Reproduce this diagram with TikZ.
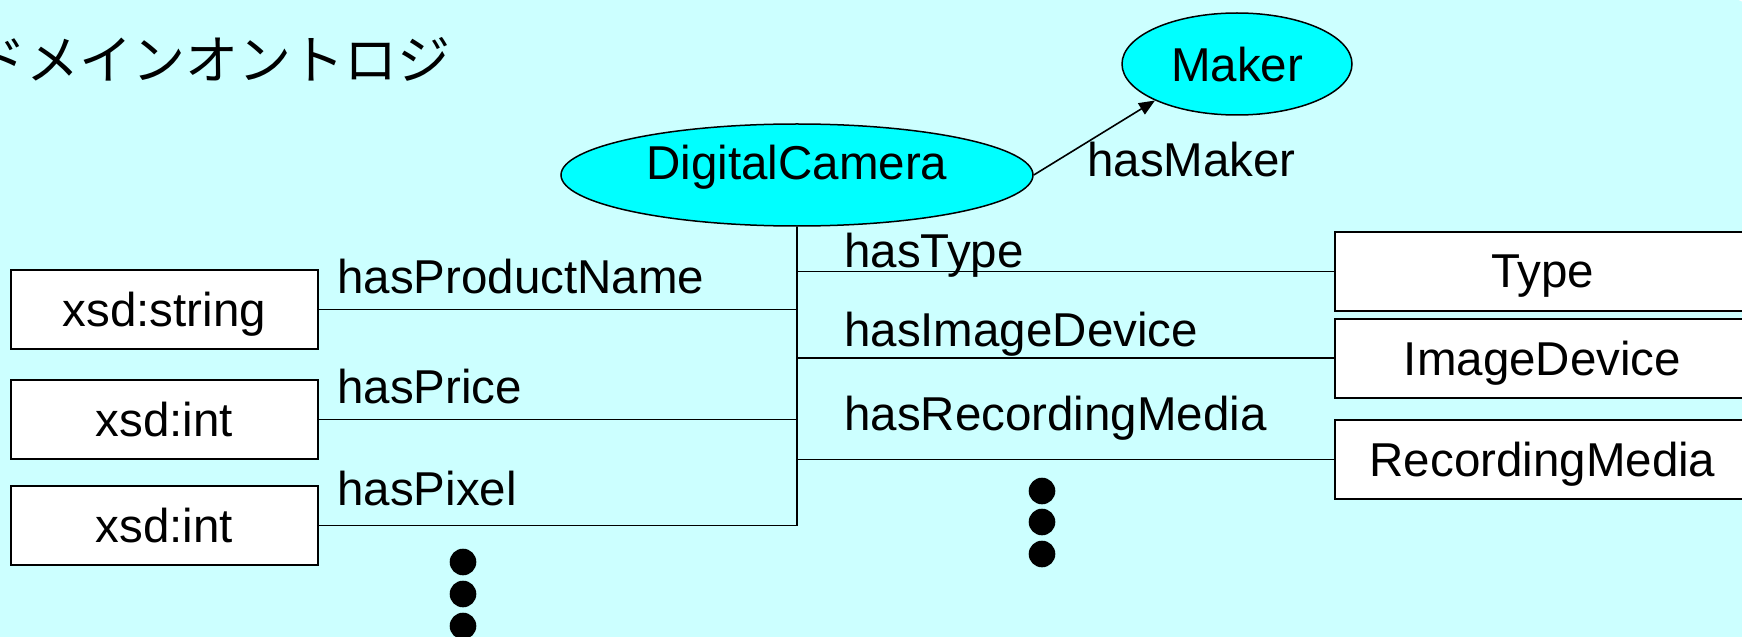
\documentclass[tikz,border=0pt]{standalone}
\usepackage{fontspec}
\setmainfont{Liberation Sans}
\newfontfamily\jpfont{Noto Sans CJK JP}
\usetikzlibrary{arrows.meta,shapes.geometric}
\definecolor{slidebg}{HTML}{CCFFFF}
\definecolor{classfill}{HTML}{00FFFF}
\tikzset{
  bigtext/.style={font=\fontsize{47.5bp}{57bp}\selectfont},
  classnode/.style={ellipse, draw, line width=1.5bp, fill=classfill,
    inner sep=0pt, bigtext, text depth=0pt},
  rangebox/.style={rectangle, draw, line width=2bp, fill=white,
    inner sep=0pt, bigtext, text depth=0pt, minimum height=79bp},
  leftbox/.style={rangebox, minimum width=307bp},
  rightbox/.style={rangebox, minimum width=415bp},
  proplabel/.style={anchor=base west, inner sep=0pt, bigtext},
  link/.style={line width=1.6bp},
  dotmark/.style={circle, fill=black, inner sep=0pt, minimum size=26.6bp},
}
\begin{document}
\begin{tikzpicture}[x=1bp, y=-1bp]
  \useasboundingbox (0,0) rectangle (1742,637);
  % slide background
  \fill[slidebg] (-2,700) [sharp corners] -- (-2,-1) [rounded corners=20bp]
    -- (1752,-1) [rounded corners=35bp] -- (1752,700) [sharp corners] -- cycle;

  % title
  \node[anchor=base west, inner sep=0pt,
        font=\jpfont\fontsize{53bp}{60bp}\selectfont] (title) at (-27,80)
        {ドメインオントロジ};

  % classes
  \node[classnode, minimum width=472bp, minimum height=102bp,
        text height=0.92em] (dc) at (797,175) {DigitalCamera};
  \node[classnode, minimum width=230bp, minimum height=102bp]
        (maker) at (1237,64) {Maker};
  \draw[link, -{Triangle[length=16bp, width=13bp]}] (dc.east) -- (maker.204);
  \node[proplabel] (lmaker) at (1087,177) {hasMaker};

  % datatype ranges
  \node[leftbox] (s1) at (164.5,309.5) {xsd:string};
  \node[leftbox] (s2) at (164.5,419.5) {xsd:int};
  \node[leftbox] (s3) at (164.5,525.5) {xsd:int};

  % object ranges
  \node[rightbox] (t1) at (1542.5,271.5) {Type};
  \node[rightbox] (t2) at (1542.5,358) {ImageDevice};
  \node[rightbox] (t3) at (1542.5,459.5) {RecordingMedia};

  % trunk and branches
  \coordinate (trunkend) at (dc.south |- s3.east);
  \draw[link] (dc.south) -- (trunkend);
  \draw[link] (s1.east) -- (s1.east -| dc.south);
  \draw[link] (s2.east) -- (s2.east -| dc.south);
  \draw[link] (s3.east) -- (trunkend);
  \draw[link] (t1.west -| dc.south) -- (t1.west);
  \draw[link] (t2.west -| dc.south) -- (t2.west);
  \draw[link] (t3.west -| dc.south) -- (t3.west);

  % property names
  \node[proplabel] (lname)  at (337,293) {hasProductName};
  \node[proplabel] (lprice) at (337,403) {hasPrice};
  \node[proplabel] (lpixel) at (337,505) {hasPixel};
  \node[proplabel] (ltype)  at (844,267) {hasType};
  \node[proplabel] (limg)   at (844,346) {hasImageDevice};
  \node[proplabel] (lrec)   at (844,430) {hasRecordingMedia};

  % continuation dots
  \node[dotmark] (ld1) at (463,562) {};
  \node[dotmark] (ld2) at (463,594) {};
  \node[dotmark] (ld3) at (463,626) {};
  \node[dotmark] (rd1) at (1042,491) {};
  \node[dotmark] (rd2) at (1042,522) {};
  \node[dotmark] (rd3) at (1042,554) {};
\end{tikzpicture}
\end{document}
